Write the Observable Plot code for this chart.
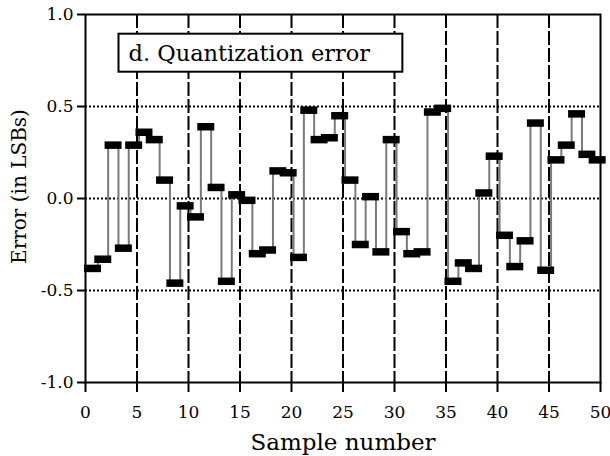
<!DOCTYPE html>
<html>
<head>
<meta charset="utf-8">
<script src="https://cdn.jsdelivr.net/npm/d3@7"></script>
<script src="https://cdn.jsdelivr.net/npm/@observablehq/plot@0.6"></script>
<style>
  html, body { margin: 0; padding: 0; background: #fff; }
  #chart { width: 610px; height: 456px; }
  #chart svg text { font-family: "DejaVu Serif", serif !important; }
</style>
</head>
<body>
<div id="chart"></div>
<script>
// Quantization error of each sample, in LSBs
const sampleIndex = d3.range(50);
const errorLSB = [
  -0.38, -0.33,  0.29, -0.27,  0.29,  0.36,  0.32,  0.10, -0.46, -0.04,
  -0.10,  0.39,  0.06, -0.45,  0.02, -0.01, -0.30, -0.28,  0.15,  0.14,
  -0.32,  0.48,  0.32,  0.33,  0.45,  0.10, -0.25,  0.01, -0.29,  0.32,
  -0.18, -0.30, -0.29,  0.47,  0.49, -0.45, -0.35, -0.38,  0.03,  0.23,
  -0.20, -0.37, -0.23,  0.41, -0.39,  0.21,  0.29,  0.46,  0.24,  0.21
];

// Axis ticks and grid positions
const xTicks = [0, 5, 10, 15, 20, 25, 30, 35, 40, 45, 50];
const yTicks = [-1, -0.5, 0, 0.5, 1];
const yTickLabels = ["-1.0", "-0.5", "0.0", "0.5", "1.0"];
const xGrid = [5, 10, 15, 20, 25, 30, 35, 40, 45];
const yGrid = [-0.5, 0, 0.5];

const panelTitle = "d. Quantization error";
const xLabel = "Sample number";
const yLabel = "Error (in LSBs)";

const samples = sampleIndex.map(i => ({n: i, v: errorLSB[i]}));
const steps = sampleIndex.slice(1).map(i => ({n: i, from: errorLSB[i - 1], to: errorLSB[i]}));

const chart = Plot.plot({
  width: 610,
  height: 456,
  marginLeft: 85,
  marginRight: 10,
  marginTop: 14,
  marginBottom: 74,
  style: {fontSize: "17px", background: "#fff", color: "#000"},
  x: {domain: [0, 50]},
  y: {domain: [-1, 1]},
  marks: [
    // dotted horizontal and dashed vertical grid
    Plot.ruleY(yGrid, {stroke: "#000", strokeWidth: 2, strokeDasharray: "2,2"}),
    Plot.ruleX(xGrid, {stroke: "#000", strokeWidth: 2, strokeDasharray: "14,3"}),
    // risers between consecutive samples
    Plot.ruleX(steps, {x: d => d.n + 0.2, y1: "from", y2: "to", stroke: "#7a7a7a", strokeWidth: 2}),
    // one thick level per sample
    Plot.ruleY(samples, {x1: d => d.n - 0.1, x2: d => d.n + 1.55, y: "v", stroke: "#000", strokeWidth: 7.5}),
    Plot.frame({stroke: "#000", strokeWidth: 2}),
    Plot.axisX({ticks: xTicks, tickSize: 10, tickPadding: 13, tickFormat: d => String(d), fontSize: 17, label: null, strokeWidth: 2}),
    Plot.axisY({ticks: yTicks, tickSize: 8, tickPadding: 4, tickFormat: d => yTickLabels[yTicks.indexOf(d)], fontSize: 17, label: null, strokeWidth: 2}),
    Plot.text([xLabel], {frameAnchor: "bottom", dy: 60, lineAnchor: "middle", fontSize: 23, fill: "#000"}),
    Plot.text([yLabel], {frameAnchor: "left", dx: -66, dy: -12, rotate: -90, textAnchor: "middle", lineAnchor: "middle", fontSize: 20, fill: "#000"}),
    Plot.text([panelTitle], {frameAnchor: "top-left", dx: 43, dy: 39, lineAnchor: "middle", textAnchor: "start", fontSize: 22.5, fill: "#000", className: "panel-title"})
  ]
});

document.getElementById("chart").appendChild(chart);

// white box with a border behind the panel title
const titleNode = chart.querySelector(".panel-title text");
if (titleNode) {
  const b = titleNode.getBBox();
  const m = titleNode.getCTM();
  const x0 = b.x + (m ? m.e : 0), y0 = b.y + (m ? m.f : 0);
  const g = titleNode.parentNode;
  d3.select(chart).insert("rect", () => g)
    .attr("x", x0 - 10).attr("y", y0 - 6)
    .attr("width", b.width + 42).attr("height", b.height + 12)
    .attr("fill", "#fff").attr("stroke", "#000").attr("stroke-width", 2);
}
</script>
</body>
</html>
